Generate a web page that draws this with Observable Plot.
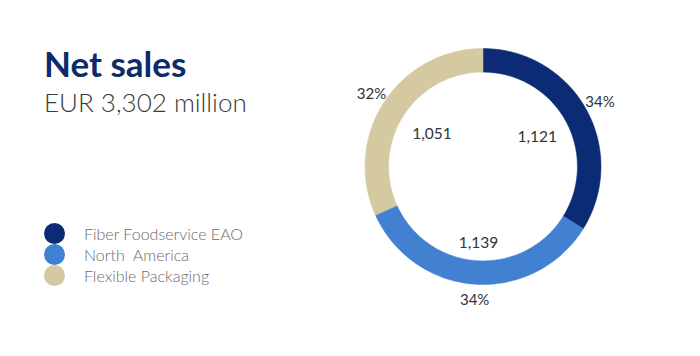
<!DOCTYPE html>
<html><head><meta charset="utf-8">
<script src="https://cdn.jsdelivr.net/npm/d3@7"></script>
<script src="https://cdn.jsdelivr.net/npm/@observablehq/plot@0.6"></script>
<style>
html,body{margin:0;padding:0;background:#fff;}
#wrap{position:relative;width:700px;height:356px;font-family:Lato,"Open Sans",sans-serif;}
#title{position:absolute;left:44px;top:46px;font-size:35px;font-weight:700;color:#0d2a6b;line-height:1;}
#sub{position:absolute;left:44px;top:89px;font-size:26px;font-weight:300;color:#3a3a3a;line-height:1;}
#legend{position:absolute;left:44px;top:223px;}
.li{display:flex;align-items:center;height:21px;font-size:16px;font-weight:300;color:#6a6a6a;}
.sw{width:21px;height:21px;border-radius:50%;margin-right:19px;}
#chart{position:absolute;left:0;top:0;}
</style></head>
<body>
<div id="wrap">
  <div id="chart"></div>
  <div id="title">Net sales</div>
  <div id="sub">EUR 3,302 million</div>
  <div id="legend"></div>
</div>
<script>
const categories = ["Fiber Foodservice EAO", "North  America", "Flexible Packaging"];
const values = [1121, 1139, 1051];
const valueLabels = ["1,121", "1,139", "1,051"];
const percentLabels = ["34%", "34%", "32%"];
const colors = ["#0b2c74", "#4281d1", "#d4c9a0"];

// layout constants
const cx = 483, cy = 166.5, R = 118;
const rInner = 0.8, rOuter = 1.0;
const rValue = [0.52, 0.65, 0.52];
const rPct = 1.13;

const total = d3.sum(values);
let acc = 0;
const slices = values.map((v, i) => {
  const a0 = acc / total * 2 * Math.PI;
  acc += v;
  const a1 = acc / total * 2 * Math.PI;
  return {cat: categories[i], a0, a1, mid: (a0 + a1) / 2, i};
});

const ringPts = [];
for (const s of slices) {
  const n = 80;
  for (let k = 0; k <= n; k++) {
    const a = s.a0 + (s.a1 - s.a0) * k / n;
    ringPts.push({
      cat: s.cat,
      x1: rInner * Math.sin(a), y1: rInner * Math.cos(a),
      x2: rOuter * Math.sin(a), y2: rOuter * Math.cos(a)
    });
  }
}
const valPts = slices.map(s => ({x: rValue[s.i] * Math.sin(s.mid), y: rValue[s.i] * Math.cos(s.mid), t: valueLabels[s.i]}));
const pctPts = slices.map(s => ({x: rPct * Math.sin(s.mid), y: rPct * Math.cos(s.mid), t: percentLabels[s.i]}));

const plot = Plot.plot({
  width: 700, height: 356,
  margin: 0,
  x: {domain: [-1, 1], range: [cx - R, cx + R], axis: null},
  y: {domain: [-1, 1], range: [cy + R, cy - R], axis: null},
  color: {domain: categories, range: colors},
  style: {fontFamily: "Lato, 'Open Sans', sans-serif", background: "white"},
  marks: [
    Plot.area(ringPts, {x1: "x1", y1: "y1", x2: "x2", y2: "y2", z: "cat", fill: "cat", stroke: "cat", strokeWidth: 0.5}),
    Plot.text(valPts, {x: "x", y: "y", text: "t", fontSize: 15.5, fill: "#2e3440"}),
    Plot.text(pctPts, {x: "x", y: "y", text: "t", fontSize: 15, fill: "#2e3440"})
  ]
});
document.getElementById("chart").appendChild(plot);

const leg = document.getElementById("legend");
categories.forEach((c, i) => {
  const d = document.createElement("div");
  d.className = "li";
  d.innerHTML = `<span class="sw" style="background:${colors[i]}"></span><span style="white-space:pre">${c}</span>`;
  leg.appendChild(d);
});
</script>
</body></html>
